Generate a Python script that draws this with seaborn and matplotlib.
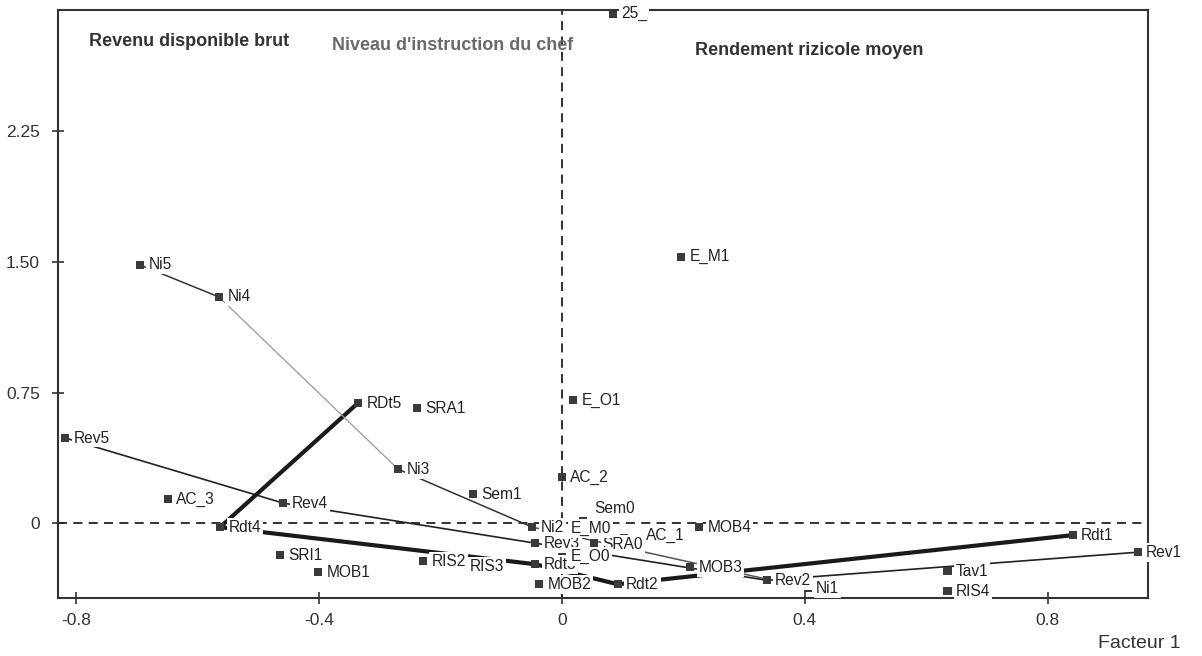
import matplotlib
matplotlib.use("Agg")
import matplotlib.pyplot as plt
import numpy as np
import pandas as pd
import seaborn as sns

# Modalities on the first factorial plane (Facteur 1, Facteur 2)
labels = [
    "25_", "E_M1", "Ni5", "Ni4", "RDt5", "SRA1", "E_O1", "Rev5", "Ni3", "Sem1",
    "AC_2", "AC_3", "Rev4", "Rdt4", "SRI1", "MOB1", "RIS3", "RIS2", "Ni2", "Rev3",
    "Rdt3", "Sem0", "SRA0", "AC_1", "E_M0", "E_O0", "MOB2", "Rdt2", "MOB4",
    "MOB3", "Ni1", "Rev2", "Tav1", "RIS4", "Rdt1", "Rev1",
]
f1 = [
    0.084, 0.196, -0.695, -0.565, -0.336, -0.239, 0.018, -0.818, -0.270, -0.147,
    0.000, -0.649, -0.459, -0.563, -0.464, -0.402, -0.165, -0.229, -0.049, -0.044,
    -0.044, 0.035, 0.053, 0.102, 0.000, 0.000, -0.038, 0.092, 0.226,
    0.211, 0.405, 0.337, 0.635, 0.635, 0.841, 0.948,
]
f2 = [
    2.925, 1.529, 1.483, 1.299, 0.690, 0.661, 0.707, 0.489, 0.310, 0.167,
    0.264, 0.138, 0.115, -0.023, -0.184, -0.282, -0.247, -0.218, -0.023, -0.115,
    -0.236, 0.011, -0.115, -0.086, -0.029, -0.190, -0.351, -0.351, -0.023,
    -0.253, -0.374, -0.328, -0.276, -0.391, -0.069, -0.167,
]

# trajectories joining ordered modalities
rev_path = ["Rev5", "Rev4", "Rev3", "Rev2", "Rev1"]
rdt_path = ["RDt5", "Rdt4", "Rdt3", "Rdt2", "Rdt1"]
ni_path = ["Ni5", "Ni4", "Ni3", "Ni2", "Ni1"]
ni_colors = ["#333333", "#999999", "#333333", "#555555"]

headers = ["Revenu disponible brut", "Niveau d'instruction du chef", "Rendement rizicole moyen"]

# a few labels nudged so the crowded centre stays readable
label_offsets = {"Sem0": (8, 9), "AC_1": (16, 2), "SRA0": (6, -1)}

df = pd.DataFrame({"label": labels, "f1": f1, "f2": f2}).set_index("label")

sns.set_theme(style="white")
plt.rcParams["font.family"] = ["Liberation Sans", "DejaVu Sans"]

fig = plt.figure(figsize=(12.02, 6.56), dpi=100)
ax = fig.add_axes([0.0483, 0.0884, 0.9067, 0.8971])

ax.axhline(0, color="#222222", lw=1.3, ls=(0, (5, 3.5)), zorder=1)
ax.axvline(0, color="#222222", lw=1.3, ls=(0, (5, 3.5)), zorder=1)

# Revenu trajectory
pts = df.loc[rev_path]
ax.plot(pts["f1"], pts["f2"], color="#222222", lw=1.2, zorder=2)

# Rendement trajectory (thick)
pts = df.loc[rdt_path]
ax.plot(pts["f1"], pts["f2"], color="#1a1a1a", lw=3.0, zorder=2,
        solid_capstyle="butt")

# Niveau d'instruction trajectory, segment by segment
pts = df.loc[ni_path]
for i, c in enumerate(ni_colors):
    ax.plot(pts["f1"].iloc[i:i + 2], pts["f2"].iloc[i:i + 2], color=c,
            lw=1.1 if c != "#999999" else 0.9, zorder=2)

sns.scatterplot(data=df.reset_index(), x="f1", y="f2", marker="s", s=34,
                color="#3a3a3a", edgecolor="none", ax=ax, zorder=3, legend=False)

for name, row in df.iterrows():
    ax.annotate(name, (row["f1"], row["f2"]),
                xytext=label_offsets.get(name, (6, 0)),
                textcoords="offset points", va="center", ha="left",
                fontsize=11.2, color="#222222", zorder=5, annotation_clip=False,
                bbox=dict(boxstyle="square,pad=0.12", fc="white", ec="none"))

ax.text(0.028, 0.945, headers[0], transform=ax.transAxes, fontsize=13,
        fontweight="bold", color="#333333", va="center")
ax.text(0.251, 0.938, headers[1], transform=ax.transAxes, fontsize=13,
        fontweight="bold", color="#6a6a6a", va="center")
ax.text(0.584, 0.931, headers[2], transform=ax.transAxes, fontsize=13,
        fontweight="bold", color="#333333", va="center")

ax.set_xlim(-0.83, 0.965)
ax.set_ylim(-0.43, 2.95)
ax.set_xticks([-0.8, -0.4, 0, 0.4, 0.8])
ax.set_xticklabels(["-0.8", "-0.4", "0", "0.4", "0.8"])
ax.set_yticks([0, 0.75, 1.5, 2.25])
ax.set_yticklabels(["0", "0.75", "1.50", "2.25"])
ax.tick_params(direction="inout", length=8, width=1.2, color="#333333",
               labelsize=12.5, labelcolor="#333333", left=True, bottom=True)
ax.tick_params(axis="y", pad=9)
ax.tick_params(axis="x", pad=7)
ax.set_xlabel("")
ax.set_ylabel("")
for sp in ax.spines.values():
    sp.set_color("#333333")
    sp.set_linewidth(1.5)
    sp.set_zorder(4)

fig.text(0.982, 0.0198, "Facteur 1", ha="right", va="center", fontsize=14,
         color="#333333")

fig.savefig("out.png", dpi=100)
